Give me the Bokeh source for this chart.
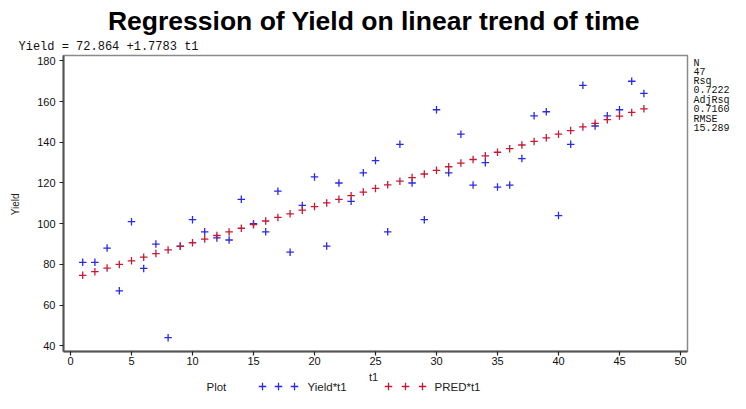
import math
from bokeh.plotting import figure
from bokeh.models import Range1d, SingleIntervalTicker
from bokeh.layouts import column, row
from bokeh.embed import file_html
from bokeh.resources import INLINE
from bokeh.core.properties import value

# ---------------- data ----------------
t1 = [1, 2, 3, 4, 5, 6, 7, 8, 9, 10, 11, 12, 13, 14, 15, 16, 17, 18, 19, 20,
      21, 22, 23, 24, 25, 26, 27, 28, 29, 30, 31, 32, 33, 34, 35, 36, 37, 38,
      39, 40, 41, 42, 43, 44, 45, 46, 47]
yield_vals = [81, 81, 88, 67, 101, 78, 90, 44, 89, 102, 96, 93, 92, 112, 100,
              96, 116, 86, 109, 123, 89, 120, 111, 125, 131, 96, 139, 120, 102,
              156, 125, 144, 119, 130, 118, 119, 132, 153, 155, 104, 139, 168,
              148, 153, 156, 170, 164]
pred_vals = [74.64, 76.42, 78.20, 79.98, 81.76, 83.53, 85.31, 87.09, 88.87,
             90.65, 92.43, 94.20, 95.98, 97.76, 99.54, 101.32, 103.10, 104.87,
             106.65, 108.43, 110.21, 111.99, 113.76, 115.54, 117.32, 119.10,
             120.88, 122.66, 124.43, 126.21, 127.99, 129.77, 131.55, 133.33,
             135.10, 136.88, 138.66, 140.44, 142.22, 144.00, 145.77, 147.55,
             149.33, 151.11, 152.89, 154.67, 156.44]
title_text = "Regression of Yield on linear trend of time"
equation_text = "Yield = 72.864 +1.7783 t1"
stat_lines = ["N", "47", "Rsq", "0.7222", "AdjRsq", "0.7160", "RMSE", "15.289"]
legend_title = "Plot"
legend_labels = ["Yield*t1", "PRED*t1"]
x_label = "t1"
y_label = "Yield"

BLUE = "#2a2ae6"
RED = "#c41a36"
SANS = "Liberation Sans"
MONO = "Liberation Mono"

# ---------------- geometry (canvas px) ----------------
W = 730
H_TOP = 54
H_MID = 315
H_BOT = 393 - H_TOP - H_MID
W_LEFT = 22
FL, FT, FW, FH = 41, 1, 624, 296      # frame inside main figure
W_MAIN = FL + FW + 2
W_STATS = W - W_LEFT - W_MAIN
X0, X1 = -0.574, 50.574
Y0, Y1 = 37.2, 182.65


def helper(width, height, flip=True):
    f = figure(width=width, height=height,
               x_range=Range1d(0, width),
               y_range=Range1d(height, 0) if flip else Range1d(0, height),
               x_axis_type=None, y_axis_type=None, output_backend="svg",
               toolbar_location=None, min_border=0)
    f.title.visible = False
    f.outline_line_color = None
    f.background_fill_color = "white"
    f.border_fill_color = "white"
    return f


def put_text(f, x, y, txt, font, size, align="left", style="normal",
             color="black", angle=0.0):
    f.text(x=[x], y=[y], text=[txt], text_font=value(font), text_font_size=size,
           text_font_style=style, text_align=align, text_baseline="middle",
           text_color=color, angle=angle)


# ---- top strip: title + equation ----
top = helper(W, H_TOP)
put_text(top, 373.5, 20, title_text, SANS, "26.5px", align="center", style="bold")
put_text(top, 18, 46.5, equation_text, MONO, "12px", color="#111111")

# ---- left strip: y axis label (reads bottom to top) ----
left = helper(W_LEFT, H_MID, flip=False)
put_text(left, 15, H_MID - (224 - H_TOP), y_label, SANS, "10px", align="left",
         color="#222222", angle=math.pi / 2)

# ---- main plot ----
p = figure(width=W_MAIN, height=H_MID, x_range=Range1d(X0, X1), y_range=Range1d(Y0, Y1),
           output_backend="svg", toolbar_location=None,
           min_border_left=FL, min_border_top=FT,
           min_border_right=W_MAIN - FL - FW, min_border_bottom=H_MID - FT - FH)
p.title.visible = False
p.grid.visible = False
p.background_fill_color = "white"
p.border_fill_color = "white"
p.outline_line_color = "#8a8a8a"
p.outline_line_width = 1.5

p.xaxis.ticker = SingleIntervalTicker(interval=5, num_minor_ticks=0)
p.yaxis.ticker = SingleIntervalTicker(interval=20, num_minor_ticks=0)
for ax in (p.xaxis[0], p.yaxis[0]):
    ax.axis_line_color = "#555555"
    ax.axis_line_width = 2
    ax.major_tick_line_color = "#222222"
    ax.major_tick_line_width = 1.2
    ax.major_tick_out = 4
    ax.major_tick_in = 0
    ax.minor_tick_line_color = None
    ax.major_label_text_font = SANS
    ax.major_label_text_font_size = "11px"
    ax.major_label_text_color = "#111111"
p.yaxis.major_label_standoff = 4
p.xaxis.major_label_standoff = 1

p.scatter(t1, yield_vals, marker="cross", size=7.5, line_color=BLUE, line_width=1.3)
p.scatter(t1, pred_vals, marker="cross", size=7.5, line_color=RED, line_width=1.3)

# ---- right strip: fit statistics ----
stats = helper(W_STATS, H_MID)
stat_mid = [62, 70.5, 82, 90.5, 102, 110.5, 122, 130.5]
for s, m in zip(stat_lines, stat_mid):
    put_text(stats, 4, m - H_TOP, s, MONO, "10px", color="#111111")

# ---- bottom strip: x label + legend ----
y0_bot = H_TOP + H_MID
bot = helper(W, H_BOT)
put_text(bot, 373, 376 - y0_bot, x_label, SANS, "11px", align="center", color="#222222")
ly = 386 - y0_bot
put_text(bot, 206, ly, legend_title, SANS, "11.5px", color="#222222")
bot.scatter([262, 278, 294], [ly] * 3, marker="cross", size=7.5, line_color=BLUE, line_width=1.3)
put_text(bot, 307, ly, legend_labels[0], SANS, "11.5px", color="#222222")
bot.scatter([388, 405, 422], [ly] * 3, marker="cross", size=7.5, line_color=RED, line_width=1.3)
put_text(bot, 434, ly, legend_labels[1], SANS, "11.5px", color="#222222")

layout = column(top, row(left, p, stats, spacing=0), bot, spacing=0)
open("out.html", "w").write(file_html(layout, INLINE))
